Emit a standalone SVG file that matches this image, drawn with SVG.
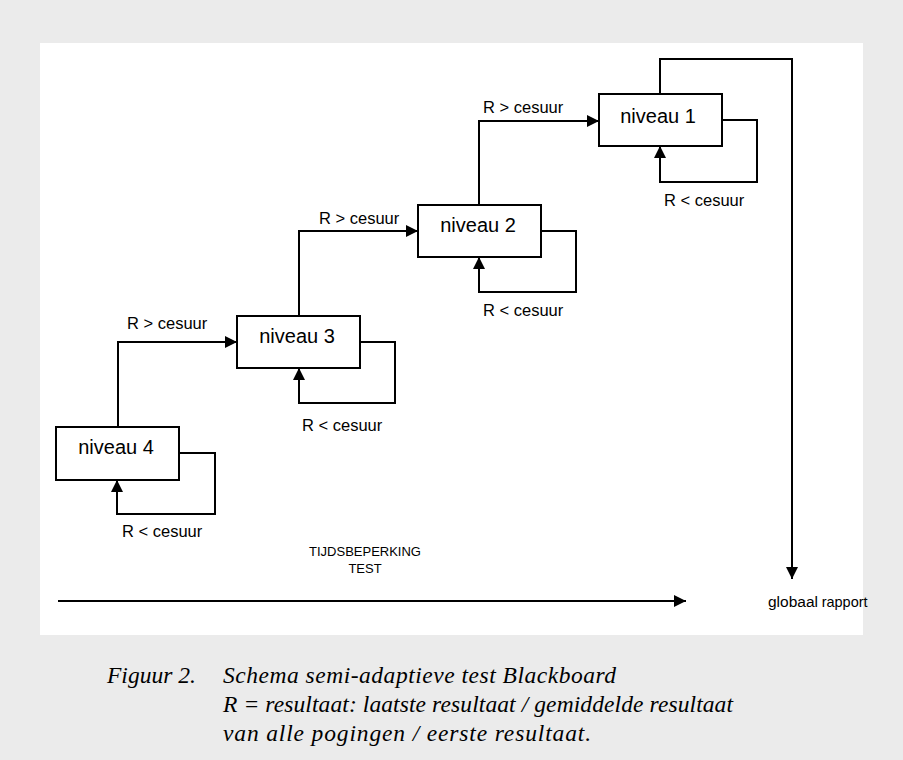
<svg xmlns="http://www.w3.org/2000/svg" width="903" height="760" viewBox="0 0 903 760">
<style>
.node rect{fill:#fff;stroke:#000;stroke-width:2}
.nt{font-family:"Liberation Sans",Arial,sans-serif;font-size:20px;fill:#000;text-anchor:middle}
.lbl{font-family:"Liberation Sans",Arial,sans-serif;font-size:16.5px;fill:#000}
.sm{font-family:"Liberation Sans",Arial,sans-serif;font-size:13px;fill:#000}
.cap{font-family:"Liberation Serif","Times New Roman",serif;font-style:italic;font-size:23.5px;fill:#000}
#connectors path{fill:none;stroke:#000;stroke-width:2}
</style>
<defs>
<marker id="ah" viewBox="0 0 12 12" refX="12" refY="6" markerWidth="12" markerHeight="12" markerUnits="userSpaceOnUse" orient="auto">
<path d="M0,0 L12,6 L0,12 z" fill="#000"/>
</marker>
</defs>
<rect x="0" y="0" width="903" height="760" fill="#ebebeb"/>
<rect x="40" y="43" width="823" height="592" fill="#fff"/>
<g id="connectors">
<path d="M118,427 V342 H237" marker-end="url(#ah)"/>
<path d="M299,316 V231 H418" marker-end="url(#ah)"/>
<path d="M479,205 V121 H599" marker-end="url(#ah)"/>
<path d="M179,453 H215 V514 H117 V480" marker-end="url(#ah)"/>
<path d="M360,342 H395 V403 H299 V368" marker-end="url(#ah)"/>
<path d="M541,231 H576 V292 H479 V257" marker-end="url(#ah)"/>
<path d="M722,120 H757 V182 H660 V146" marker-end="url(#ah)"/>
<path d="M660,94 V59 H792 V579" marker-end="url(#ah)"/>
<path d="M58,601 H686" marker-end="url(#ah)"/>
<text class="lbl" x="127" y="329">R &gt; cesuur</text>
<text class="lbl" x="319" y="224">R &gt; cesuur</text>
<text class="lbl" x="483" y="113">R &gt; cesuur</text>
<text class="lbl" x="122" y="537">R &lt; cesuur</text>
<text class="lbl" x="302" y="431">R &lt; cesuur</text>
<text class="lbl" x="483" y="316">R &lt; cesuur</text>
<text class="lbl" x="664" y="206">R &lt; cesuur</text>
</g>
<g id="n4" class="node"><rect x="56" y="427" width="123" height="53"/><text class="nt" x="116" y="454">niveau 4</text></g>
<g id="n3" class="node"><rect x="237" y="316" width="123" height="52"/><text class="nt" x="297" y="343">niveau 3</text></g>
<g id="n2" class="node"><rect x="418" y="205" width="123" height="52"/><text class="nt" x="478" y="232">niveau 2</text></g>
<g id="n1" class="node"><rect x="599" y="94" width="123" height="52"/><text class="nt" x="658" y="123">niveau 1</text></g>
<g id="limit">
<text class="sm" x="365" y="556" text-anchor="middle">TIJDSBEPERKING</text>
<text class="sm" x="365" y="573" text-anchor="middle">TEST</text>
</g>
<g id="report"><text class="sm" x="768" y="607"><tspan style="font-size:15.5px">globaal</tspan> <tspan style="font-size:14.5px">rapport</tspan></text></g>
<g id="caption">
<text class="cap" x="107" y="683">Figuur 2.</text>
<text class="cap" x="223" y="683" textLength="393" lengthAdjust="spacing">Schema semi-adaptieve test Blackboard</text>
<text class="cap" x="223" y="712" textLength="510" lengthAdjust="spacing">R = resultaat: laatste resultaat / gemiddelde resultaat</text>
<text class="cap" x="223" y="741" textLength="368" lengthAdjust="spacing">van alle pogingen / eerste resultaat.</text>
</g>
</svg>
